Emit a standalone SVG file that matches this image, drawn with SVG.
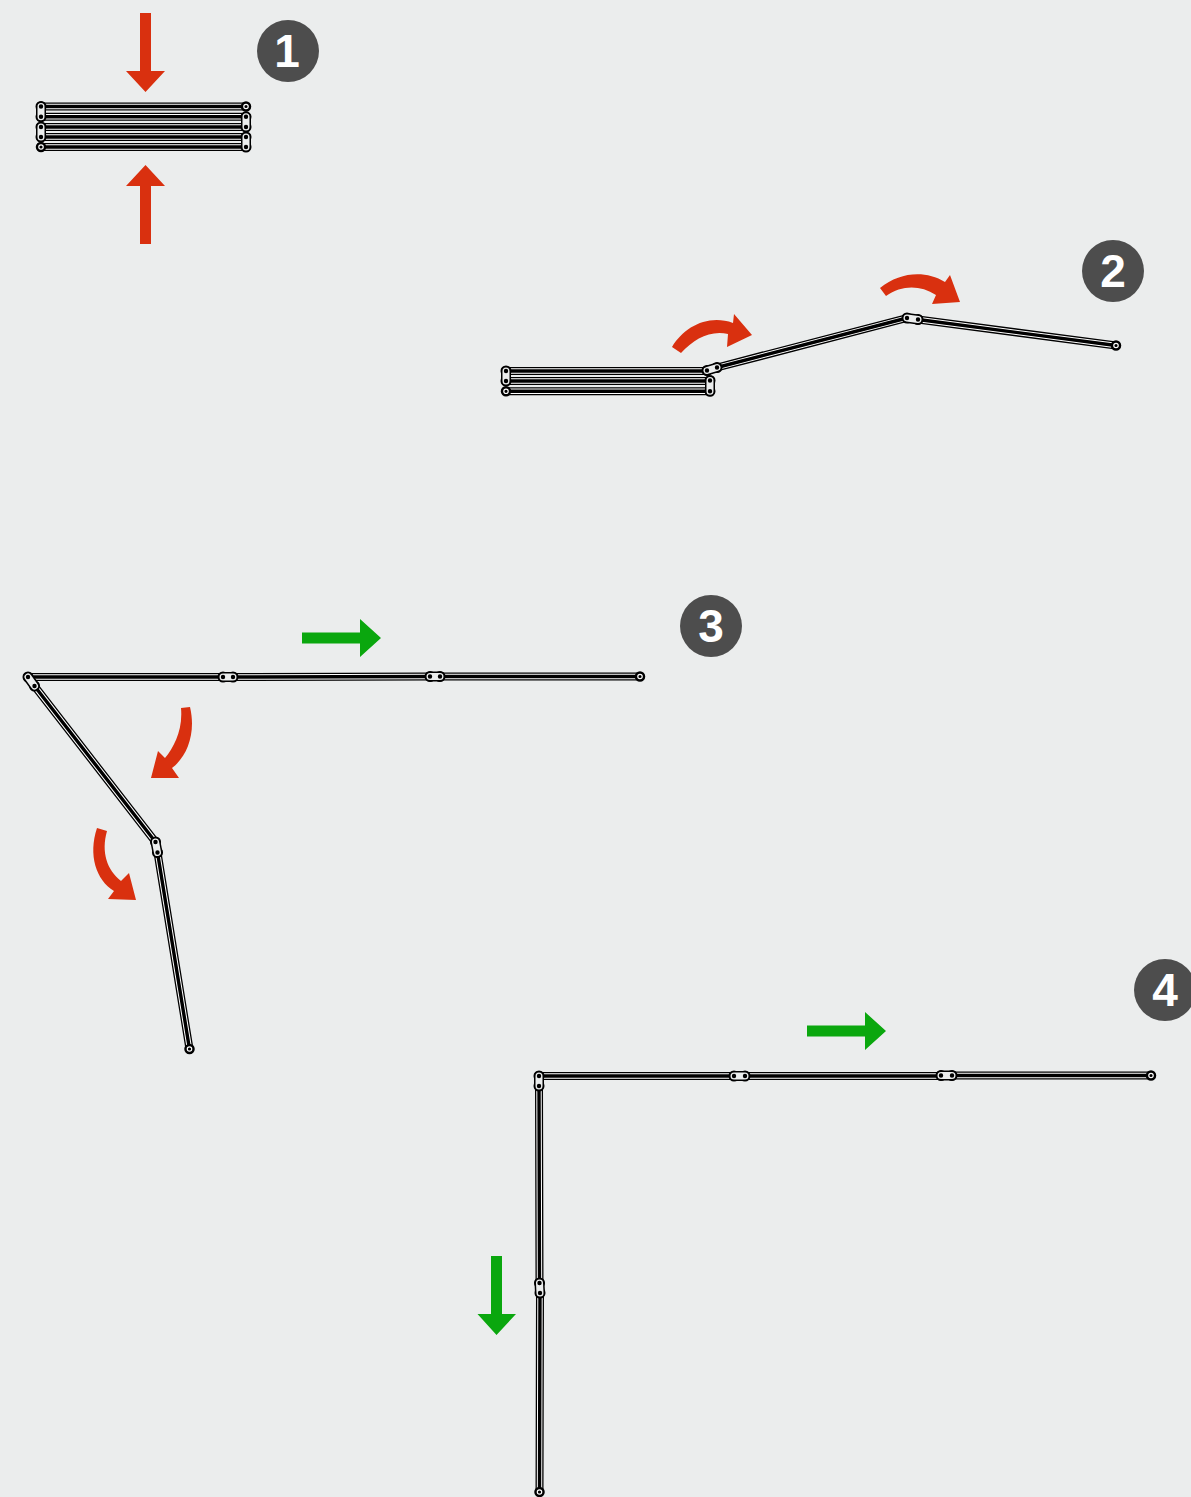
<svg xmlns="http://www.w3.org/2000/svg" width="1191" height="1497" viewBox="0 0 1191 1497">
<style>
.bg{fill:#ebeded}
.red{fill:#d9300f}
.green{fill:#0aa70e}
.badge circle{fill:#4d4d4d}
.badge text{fill:#fff;font-family:"Liberation Sans",Arial,sans-serif;font-weight:700;font-size:46px;text-anchor:middle}
.geo{fill:none;stroke-linecap:round;stroke-linejoin:round}
.b1{stroke:#000;stroke-width:8;stroke-linecap:butt}
.b2{stroke:#fff;stroke-width:5.4;stroke-linecap:butt}
.b3{stroke:#000;stroke-width:3.4;stroke-linecap:butt}
.p1{stroke:#000;stroke-width:11}
.l1{stroke:#000;stroke-width:10}
.l2{stroke:#ebeded;stroke-width:7}
.d{stroke:#000;stroke-width:4.4}
.e1{stroke:#000;stroke-width:10.500}
.e2{stroke:#fff;stroke-width:5.600}
.e3{stroke:#000;stroke-width:3.200}
</style>
<defs>
<path id="bars1" d="M41 106.500H246M41 116.800H246M41 127H246M41 137H246M41 147H246"/>
<path id="links1" d="M41 106.500V116.800M41 127V137M246 116.800V127M246 137V147"/>
<path id="piv1" d="M41 106.500h.01M41 116.800h.01M41 127h.01M41 137h.01M246 116.800h.01M246 127h.01M246 137h.01M246 147h.01"/>
<path id="ends1" d="M246 106.500h.01M41 147h.01"/>
<path id="bars2" d="M506 371H707M506 381H710M506 391.300H710M717 367.500L907 318M918 319.500L1116 345.500"/>
<path id="links2" d="M506 371V381M710 380.500V391.300M707 370.500L717 367.500M907 318L918 319.500"/>
<path id="piv2" d="M506 371h.01M506 381h.01M710 380.500h.01M710 391.300h.01M707 370.500h.01M717 367.500h.01M907 318h.01M918 319.500h.01"/>
<path id="ends2" d="M506 391.300h.01M1116 345.500h.01"/>
<path id="bars3" d="M28 677H223M233 677L430 676.500M440 676.500H640M34.500 686L155.500 842M157.500 852.500L189.500 1049"/>
<path id="links3" d="M223 677H233M430 676.500H440M28 677L34.500 686M155.500 842L157.500 852.500"/>
<path id="piv3" d="M223 677h.01M233 677h.01M430 676.500h.01M440 676.500h.01M28 677h.01M34.500 686h.01M155.500 842h.01M157.500 852.500h.01"/>
<path id="ends3" d="M640 676.500h.01M189.500 1049h.01"/>
<path id="bars4" d="M539 1076H734M745 1076H941M952 1075.500H1151M539 1086L539.500 1283M540 1293L539.500 1492"/>
<path id="links4" d="M734 1076H745M941 1075.500H952M539 1076V1086M539.500 1283L540 1293"/>
<path id="piv4" d="M734 1076h.01M745 1076h.01M941 1075.500h.01M952 1075.500h.01M539 1076h.01M539 1086h.01M539.500 1283h.01M540 1293h.01"/>
<path id="ends4" d="M1151 1075.500h.01M539.500 1492h.01"/>
</defs>
<rect class="bg" width="1191" height="1497"/>
<g id="stage-1" class="geo">
<use href="#bars1" class="b1"/><use href="#bars1" class="b2"/><use href="#bars1" class="b3"/>
<use href="#piv1" class="p1"/><use href="#links1" class="l1"/><use href="#links1" class="l2"/><use href="#piv1" class="d"/>
<use href="#ends1" class="e1"/><use href="#ends1" class="e2"/><use href="#ends1" class="e3"/>
</g>
<g id="stage-2" class="geo">
<use href="#bars2" class="b1"/><use href="#bars2" class="b2"/><use href="#bars2" class="b3"/>
<use href="#piv2" class="p1"/><use href="#links2" class="l1"/><use href="#links2" class="l2"/><use href="#piv2" class="d"/>
<use href="#ends2" class="e1"/><use href="#ends2" class="e2"/><use href="#ends2" class="e3"/>
</g>
<g id="stage-3" class="geo">
<use href="#bars3" class="b1"/><use href="#bars3" class="b2"/><use href="#bars3" class="b3"/>
<use href="#piv3" class="p1"/><use href="#links3" class="l1"/><use href="#links3" class="l2"/><use href="#piv3" class="d"/>
<use href="#ends3" class="e1"/><use href="#ends3" class="e2"/><use href="#ends3" class="e3"/>
</g>
<g id="stage-4" class="geo">
<use href="#bars4" class="b1"/><use href="#bars4" class="b2"/><use href="#bars4" class="b3"/>
<use href="#piv4" class="p1"/><use href="#links4" class="l1"/><use href="#links4" class="l2"/><use href="#piv4" class="d"/>
<use href="#ends4" class="e1"/><use href="#ends4" class="e2"/><use href="#ends4" class="e3"/>
</g>
<g id="arrows">
<polygon class="red" points="140,13 151,13 151,71 165,71 145.500,92 126,71 140,71"/>
<polygon class="red" points="140,244 151,244 151,186 165,186 145.500,165 126,186 140,186"/>
<path class="red" d="M672 347C684 327 708 314 733 323L734 314L752 335L727 347L728 334C710 330 694 339 681 353Z"/>
<path class="red" d="M880 288C900 272 925 270 945 282L950 275L960 302L932 304L936 295C920 285 902 285 886 296Z"/>
<path class="red" d="M181 708C183 730 174 747 165 758L158 751L151 778L179 778L172 768C188 756 196 732 190 707Z"/>
<path class="red" d="M97 828C88 855 96 880 114 891L108 899L136 900L129 873L121 881C107 870 101 852 107 831Z"/>
<polygon class="green" points="302,632.500 360,632.500 360,619 381,638 360,657 360,643.500 302,643.500"/>
<polygon class="green" points="807,1025.500 865,1025.500 865,1012 886,1031 865,1050 865,1036.500 807,1036.500"/>
<polygon class="green" points="491,1256 502,1256 502,1314 516,1314 496.500,1335 477.500,1314 491,1314"/>
</g>
<g id="badge-1" class="badge"><circle cx="288" cy="51" r="31"/><text x="287" y="67">1</text></g>
<g id="badge-2" class="badge"><circle cx="1113" cy="271" r="31"/><text x="1113" y="287">2</text></g>
<g id="badge-3" class="badge"><circle cx="711" cy="626" r="31"/><text x="711" y="642">3</text></g>
<g id="badge-4" class="badge"><circle cx="1165" cy="990" r="31"/><text x="1165" y="1006">4</text></g>
</svg>
